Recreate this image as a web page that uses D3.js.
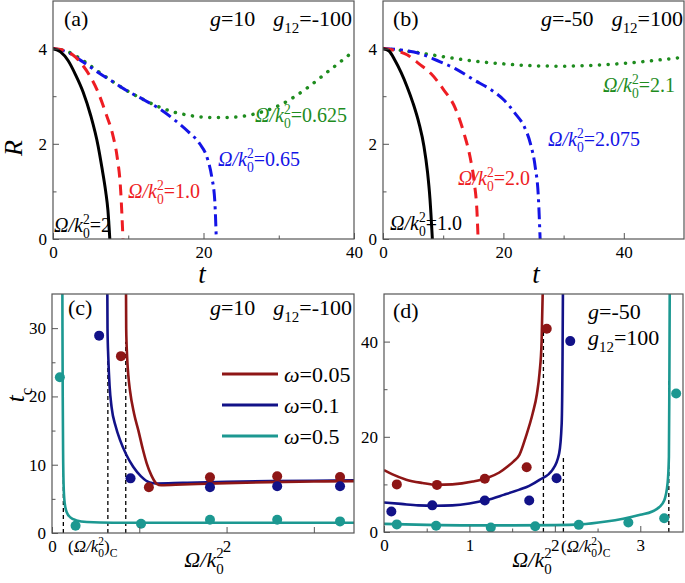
<!DOCTYPE html>
<html><head><meta charset="utf-8">
<script src="https://cdn.jsdelivr.net/npm/d3@7"></script>
<style>body{margin:0;background:#fff} svg{display:block}</style>
</head><body><svg id="chart" width="685" height="583"></svg>
<script>
// ---------- Data ----------
// Panel (a): R(t)
const aBlackT = [0, 1, 2, 3, 4, 5, 6, 6.5, 7, 7.3, 7.55];
const aBlackR = [4, 3.93, 3.75, 3.45, 3.09, 2.6, 1.95, 1.5, 1.0, 0.6, 0];
const aRedT = [0, 1, 2, 3, 4, 5, 6, 7, 8, 8.5, 9, 9.3];
const aRedR = [4, 3.98, 3.93, 3.82, 3.64, 3.4, 3.08, 2.65, 2.15, 1.75, 1.0, 0];
const aBlueT = [0, 2, 4, 6, 8, 10, 12, 14, 16, 18, 19.5, 20.5, 21.1, 21.5, 21.7];
const aBlueR = [4, 3.92, 3.72, 3.5, 3.3, 3.1, 2.93, 2.75, 2.52, 2.25, 2.0, 1.7, 1.3, 0.8, 0];
const aGreenT = [0, 2, 4, 6, 8, 10, 12, 14, 16, 18, 20, 22, 24, 26, 28, 30, 32, 34, 36, 38, 40];
const aGreenR = [4, 3.93, 3.75, 3.52, 3.3, 3.1, 2.93, 2.78, 2.67, 2.6, 2.56, 2.55, 2.56, 2.6, 2.68, 2.8, 2.98, 3.2, 3.45, 3.7, 3.95];
// Panel (b)
const bBlackT = [0, 1, 2, 3, 4, 5, 6, 6.8, 7.4, 7.8, 8.2];
const bBlackR = [4, 3.95, 3.75, 3.5, 3.2, 2.85, 2.42, 1.95, 1.4, 0.85, 0];
const bRedT = [0, 2, 4, 6, 8, 10, 12, 13.5, 14.5, 15.2, 15.6, 15.8];
const bRedR = [4, 3.96, 3.87, 3.68, 3.47, 3.15, 2.75, 2.2, 1.7, 1.15, 0.6, 0];
const bBlueT = [0, 3, 6, 9, 12, 15, 18, 20, 22, 23.5, 24.5, 25.3, 25.8, 26.1];
const bBlueR = [4, 3.97, 3.9, 3.75, 3.58, 3.35, 3.13, 2.93, 2.63, 2.35, 2.0, 1.5, 0.9, 0];
const bGreenT = [0, 5, 10, 15, 20, 25, 30, 35, 40, 45, 50];
const bGreenR = [4, 3.93, 3.83, 3.74, 3.68, 3.64, 3.63, 3.65, 3.69, 3.75, 3.82];
// Panel (c): t_c vs Omega/k0^2
const cRedX = [0.846, 0.85, 0.86, 0.875, 0.893, 0.94, 0.99, 1.04, 1.085, 1.14, 1.2, 1.25, 1.5, 2.0, 2.5, 3.0, 3.46];
const cRedY = [40, 30, 26, 23, 20.9, 17.5, 15, 12.3, 10.2, 8.4, 7.2, 7.0, 7.1, 7.3, 7.45, 7.55, 7.6];
const cBlueX = [0.632, 0.636, 0.645, 0.66, 0.683, 0.73, 0.78, 0.85, 0.93, 1.02, 1.12, 1.2, 1.5, 2.0, 2.5, 3.0, 3.46];
const cBlueY = [40, 30, 25.7, 21.5, 18.4, 15.6, 13.6, 11.5, 9.7, 8.3, 7.4, 7.25, 7.35, 7.5, 7.6, 7.65, 7.7];
const cTealX = [0.118, 0.12, 0.123, 0.127, 0.133, 0.145, 0.17, 0.21, 0.28, 0.4, 0.7, 1.5, 2.5, 3.46];
const cTealY = [40, 30, 20, 12, 7, 4.4, 3.0, 2.3, 1.85, 1.6, 1.5, 1.5, 1.5, 1.5];
const cRedDotX = [0.79, 1.11, 1.81, 2.58, 3.30];
const cRedDotY = [25.9, 6.7, 8.15, 8.3, 8.2];
const cBlueDotX = [0.54, 0.90, 1.81, 2.58, 3.30];
const cBlueDotY = [28.9, 8.0, 6.7, 6.85, 6.85];
const cTealDotX = [0.09, 0.27, 1.02, 1.81, 2.58, 3.30];
const cTealDotY = [22.8, 1.06, 1.35, 1.95, 1.95, 1.7];
const cCritX = [0.13, 0.64, 0.845];
const cCritTop = [20, 27.7, 28];
// Panel (d)
const dRedX = [0, 0.1, 0.26, 0.45, 0.61, 0.8, 1.04, 1.2, 1.35, 1.45, 1.52, 1.585, 1.66, 1.74, 1.79, 1.82, 1.845, 1.86];
const dRedY = [13.0, 12.1, 11.0, 10.3, 9.9, 10.0, 10.6, 11.3, 12.5, 13.8, 14.9, 16.2, 20, 24.9, 29, 33.3, 40, 52];
const dBlueX = [0, 0.2, 0.4, 0.6, 0.8, 1.0, 1.2, 1.4, 1.585, 1.7, 1.82, 1.97, 2.05, 2.08, 2.09, 2.095];
const dBlueY = [6.2, 5.9, 5.6, 5.5, 5.6, 6.0, 6.7, 7.8, 8.9, 9.7, 10.95, 13.0, 16.5, 22.8, 36.8, 52];
const dTealX = [0, 0.5, 1.0, 1.5, 2.0, 2.3, 2.6, 2.8, 3.0, 3.14, 3.22, 3.28, 3.32, 3.335, 3.34, 3.345];
const dTealY = [1.7, 1.5, 1.4, 1.4, 1.45, 1.6, 2.2, 2.8, 3.6, 4.3, 5.2, 6.6, 10.3, 15.8, 30, 52];
const dRedDotX = [0.15, 0.62, 1.18, 1.67, 1.905];
const dRedDotY = [10.0, 9.9, 11.2, 13.6, 42.7];
const dBlueDotX = [0.086, 0.565, 1.18, 1.70, 2.02, 2.18];
const dBlueDotY = [4.3, 5.6, 6.6, 6.6, 11.3, 40.1];
const dTealDotX = [0.15, 0.61, 1.25, 1.77, 2.28, 2.86, 3.28, 3.42];
const dTealDotY = [1.6, 1.3, 0.95, 1.2, 1.5, 2.0, 2.9, 29.1];
const dCritX = [1.866, 2.10, 3.334];
const dCritTop = [43, 16, 32];
// Labels
const omegaLegend = ["0.05", "0.1", "0.5"];
const aLabels = ["0.625", "0.65", "1.0", "2"];
const bLabels = ["2.1", "2.075", "2.0", "1.0"];

// ---------- Styles ----------
const FONT = '"Liberation Serif"';
const C = {black:"#000", red:"#ee1d23", blue:"#1414e6", green:"#1e8c1e",
           dred:"#8e1616", navy:"#121288", teal:"#1c9891"};
const svg = d3.select("#chart");
const FS = 17;

function rich(parent, x, y, segs, size, color, anchor, rotate) {
  const g = parent.append("g").attr("fill", color);
  const inner = g.append("g");
  let cx = 0;
  segs.forEach(s => {
    if (s.gap !== undefined) { cx += s.gap; return; }
    if (s.t !== undefined) {
      const el = inner.append("text").attr("x", cx).attr("y", 0).attr("font-size", size)
        .attr("font-family", FONT).attr("font-style", s.i ? "italic" : "normal").text(s.t);
      cx += el.node().getComputedTextLength();
    } else {
      let w = 0;
      if (s.sup !== undefined) {
        const e = inner.append("text").attr("x", cx).attr("y", -size*0.42).attr("font-size", size*0.68)
          .attr("font-family", FONT).text(s.sup);
        w = Math.max(w, e.node().getComputedTextLength());
      }
      if (s.sub !== undefined) {
        const e = inner.append("text").attr("x", cx).attr("y", size*0.32).attr("font-size", size*0.68)
          .attr("font-family", FONT).text(s.sub);
        w = Math.max(w, e.node().getComputedTextLength());
      }
      cx += w;
    }
  });
  const off = anchor === "end" ? -cx : anchor === "middle" ? -cx/2 : 0;
  inner.attr("transform", `translate(${off},0)`);
  g.attr("transform", `translate(${x},${y})` + (rotate ? ` rotate(${rotate})` : ""));
  return g;
}
const omk = (val) => [{t:"Ω/k", i:true}, {sup:"2", sub:"0"}, {t:"=" + val}];

let clipId = 0;
function panel(o) {
  const xs = d3.scaleLinear().domain(o.xd).range([o.x0, o.x1]);
  const ys = d3.scaleLinear().domain(o.yd).range([o.y1, o.y0]);
  const g = svg.append("g");
  const id = "clip" + (clipId++);
  svg.append("clipPath").attr("id", id).append("rect")
    .attr("x", o.x0).attr("y", o.y0).attr("width", o.x1 - o.x0).attr("height", o.y1 - o.y0);
  const plot = g.append("g").attr("clip-path", `url(#${id})`);
  const fmtX = o.xFmt || (d => String(d));
  const xa = g.append("g").attr("transform", `translate(0,${o.y1})`)
    .call(d3.axisBottom(xs).tickValues(o.xMajor).tickSize(-6).tickPadding(7).tickFormat(fmtX));
  const xm = g.append("g").attr("transform", `translate(0,${o.y1})`)
    .call(d3.axisBottom(xs).tickValues(o.xMinor).tickSize(-3.5).tickFormat(""));
  const ya = g.append("g").attr("transform", `translate(${o.x0},0)`)
    .call(d3.axisLeft(ys).tickValues(o.yMajor).tickSize(-6).tickPadding(6).tickFormat(d => String(d)));
  const ym = g.append("g").attr("transform", `translate(${o.x0},0)`)
    .call(d3.axisLeft(ys).tickValues(o.yMinor).tickSize(-3.5).tickFormat(""));
  [xa, xm, ya, ym].forEach(a => {
    a.attr("font-family", FONT).attr("font-size", FS);
    a.select(".domain").remove();
    a.selectAll("line").attr("stroke", "#555");
    a.selectAll("text").attr("font-family", FONT).attr("font-size", FS).attr("fill", "#000");
  });
  g.append("rect").attr("x", o.x0).attr("y", o.y0).attr("width", o.x1 - o.x0).attr("height", o.y1 - o.y0)
    .attr("fill", "none").attr("stroke", "#555").attr("stroke-width", 1.2);
  return {xs, ys, g, plot};
}

function curve(p, X, Y, color, w, dash, cap) {
  const pts = X.map((x, i) => [x, Y[i]]);
  const line = d3.line().x(d => p.xs(d[0])).y(d => p.ys(d[1])).curve(d3.curveMonotoneX);
  p.plot.append("path").attr("d", line(pts)).attr("fill", "none").attr("stroke", color)
    .attr("stroke-width", w).attr("stroke-dasharray", dash || null).attr("stroke-linecap", cap || "butt");
}
function dots(p, X, Y, color) {
  p.plot.selectAll(null).data(X.map((x, i) => [x, Y[i]])).enter().append("circle")
    .attr("cx", d => p.xs(d[0])).attr("cy", d => p.ys(d[1])).attr("r", 5).attr("fill", color);
}
function crit(p, X, T) {
  X.forEach((x, i) => {
    p.plot.append("line").attr("x1", p.xs(x)).attr("x2", p.xs(x)).attr("y1", p.ys(0)).attr("y2", p.ys(T[i]))
      .attr("stroke", "#000").attr("stroke-width", 1.3).attr("stroke-dasharray", "4,3");
  });
}
const gLabel = (g1, g12) => [{t:"g",i:true},{t:"=" + g1},{gap:18},{t:"g",i:true},{sub:"12"},{t:"=" + g12}];

// ---------- Panel (a) ----------
const pa = panel({x0:53, x1:354, y0:1, y1:239, xd:[0,40], yd:[0,5],
  xMajor:[0,20,40], xMinor:[10,30], yMajor:[0,2,4], yMinor:[1,3]});
curve(pa, aGreenT, aGreenR, C.green, 3.5, "0.1,8.6", "round");
curve(pa, aBlueT, aBlueR, C.blue, 3, "12,5,3,5");
curve(pa, aRedT, aRedR, C.red, 3, "11,7");
curve(pa, aBlackT, aBlackR, C.black, 3);
rich(svg, 64, 26, [{t:"(a)"}], 22, "#000");
rich(svg, 352, 26, gLabel("10", "-100"), 22, "#000", "end");
rich(svg, 255, 122, omk(aLabels[0]), 20, C.green);
rich(svg, 218, 166, omk(aLabels[1]), 20, C.blue);
rich(svg, 128, 198, omk(aLabels[2]), 20, C.red);
rich(svg, 54, 232, omk(aLabels[3]), 20, C.black);
rich(svg, 22, 148, [{t:"R", i:true}], 26, "#000", "middle", -90);
rich(svg, 202, 283, [{t:"t", i:true}], 27, "#000", "middle");

// ---------- Panel (b) ----------
const pb = panel({x0:383, x1:684, y0:1, y1:239, xd:[0,50], yd:[0,5],
  xMajor:[0,20,40], xMinor:[10,30], yMajor:[0,2,4], yMinor:[1,3]});
curve(pb, bGreenT, bGreenR, C.green, 3.5, "0.1,8.6", "round");
curve(pb, bBlueT, bBlueR, C.blue, 3, "12,5,3,5");
curve(pb, bRedT, bRedR, C.red, 3, "11,7");
curve(pb, bBlackT, bBlackR, C.black, 3);
rich(svg, 393, 26, [{t:"(b)"}], 22, "#000");
rich(svg, 683, 26, gLabel("-50", "100"), 22, "#000", "end");
rich(svg, 603, 92, omk(bLabels[0]), 20, C.green);
rich(svg, 548, 146, omk(bLabels[1]), 20, C.blue);
rich(svg, 458, 185, omk(bLabels[2]), 20, C.red);
rich(svg, 390, 230, omk(bLabels[3]), 20, C.black);
rich(svg, 536, 283, [{t:"t", i:true}], 27, "#000", "middle");

// ---------- Panel (c) ----------
const pc = panel({x0:52, x1:354, y0:294, y1:533, xd:[0,3.46], yd:[0,35],
  xMajor:[0,1,2,3], xMinor:[], yMajor:[0,10,20,30], yMinor:[5,15,25],
  xFmt: d => (d === 0 || d === 2) ? String(d) : ""});
crit(pc, cCritX, cCritTop);
curve(pc, cTealX, cTealY, C.teal, 2.6);
curve(pc, cBlueX, cBlueY, C.navy, 2.6);
curve(pc, cRedX, cRedY, C.dred, 2.6);
dots(pc, cRedDotX, cRedDotY, C.dred);
dots(pc, cBlueDotX, cBlueDotY, C.navy);
dots(pc, cTealDotX, cTealDotY, C.teal);
rich(svg, 68, 315, [{t:"(c)"}], 22, "#000");
rich(svg, 352, 315, gLabel("10", "-100"), 22, "#000", "end");
[C.dred, C.navy, C.teal].forEach((col, i) => {
  const yy = 374 + i * 31;
  svg.append("line").attr("x1", 222).attr("x2", 278).attr("y1", yy).attr("y2", yy)
    .attr("stroke", col).attr("stroke-width", 3);
  rich(svg, 284, yy + 8, [{t:"ω", i:true}, {t:"=" + omegaLegend[i]}], 22, "#000");
});
rich(svg, 68, 552, [{t:"("},{t:"Ω/k", i:true},{sup:"2", sub:"0"},{t:")"},{sub:"C"}], 17, "#000");
rich(svg, 204, 567, [{t:"Ω/k", i:true},{sup:"2", sub:"0"}], 22, "#000", "middle");
rich(svg, 24, 395, [{t:"t", i:true},{sub:"c"}], 25, "#000", "middle", -90);

// ---------- Panel (d) ----------
const pd = panel({x0:384, x1:683, y0:294, y1:532, xd:[0,3.5], yd:[0,50],
  xMajor:[0,1,2,3], xMinor:[0.5,1.5,2.5], yMajor:[0,20,40], yMinor:[10,30]});
crit(pd, dCritX, dCritTop);
curve(pd, dTealX, dTealY, C.teal, 2.6);
curve(pd, dBlueX, dBlueY, C.navy, 2.6);
curve(pd, dRedX, dRedY, C.dred, 2.6);
dots(pd, dRedDotX, dRedDotY, C.dred);
dots(pd, dBlueDotX, dBlueDotY, C.navy);
dots(pd, dTealDotX, dTealDotY, C.teal);
rich(svg, 393, 318, [{t:"(d)"}], 22, "#000");
rich(svg, 588, 319, [{t:"g",i:true},{t:"=-50"}], 22, "#000");
rich(svg, 588, 345, [{t:"g",i:true},{sub:"12"},{t:"=100"}], 22, "#000");
rich(svg, 561, 552, [{t:"("},{t:"Ω/k", i:true},{sup:"2", sub:"0"},{t:")"},{sub:"C"}], 17, "#000");
rich(svg, 532, 567, [{t:"Ω/k", i:true},{sup:"2", sub:"0"}], 22, "#000", "middle");
</script></body></html>
